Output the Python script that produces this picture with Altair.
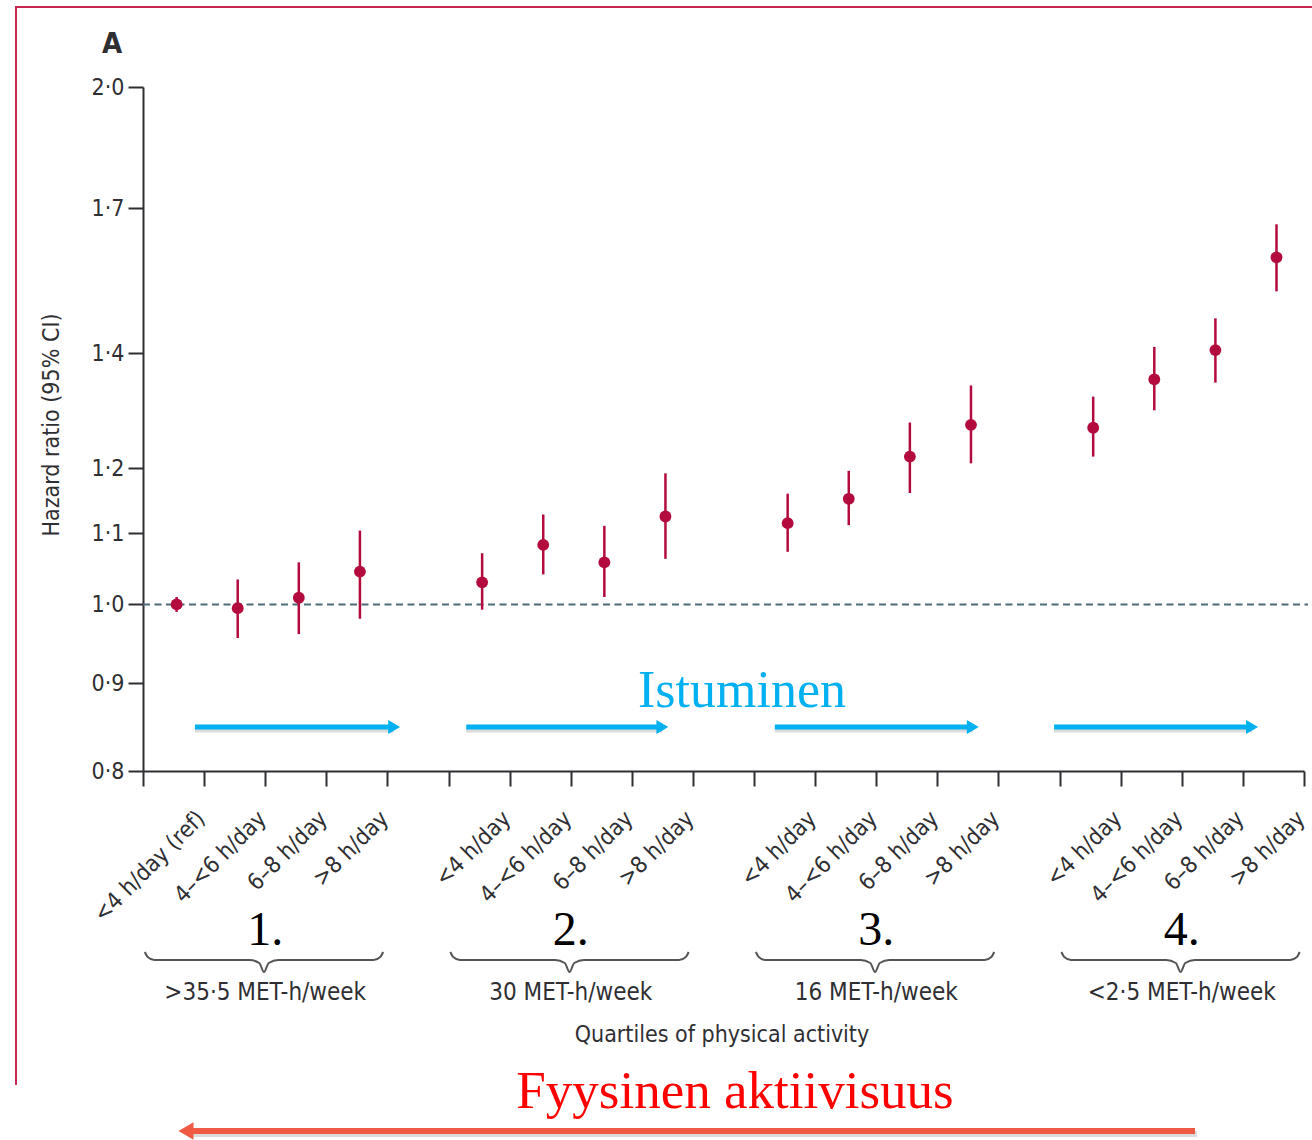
import altair as alt
import pandas as pd

# Hazard ratios (95% CI) by daily sitting time within quartiles of physical activity
sitting = ["<4 h/day (ref)", "4–<6 h/day", "6–8 h/day", ">8 h/day",
           "<4 h/day", "4–<6 h/day", "6–8 h/day", ">8 h/day",
           "<4 h/day", "4–<6 h/day", "6–8 h/day", ">8 h/day",
           "<4 h/day", "4–<6 h/day", "6–8 h/day", ">8 h/day"]
slot = [0, 1, 2, 3, 5, 6, 7, 8, 10, 11, 12, 13, 15, 16, 17, 18]
hr = [1.000, 0.995, 1.009, 1.045, 1.030, 1.083, 1.058, 1.125,
      1.115, 1.152, 1.219, 1.272, 1.267, 1.352, 1.406, 1.592]
lo = [0.990, 0.956, 0.961, 0.981, 0.993, 1.041, 1.010, 1.063,
      1.073, 1.112, 1.161, 1.208, 1.219, 1.297, 1.346, 1.521]
hi = [1.010, 1.034, 1.058, 1.104, 1.071, 1.128, 1.111, 1.192,
      1.160, 1.196, 1.276, 1.341, 1.321, 1.412, 1.467, 1.664]

group_num = ["1.", "2.", "3.", "4."]
group_met = [">35·5 MET-h/week", "30 MET-h/week", "16 MET-h/week", "<2·5 MET-h/week"]
group_start = [0, 5, 10, 15]

y_ticks = [0.8, 0.9, 1.0, 1.1, 1.2, 1.4, 1.7, 2.0]

# sitting-time arrows (tail, tip) along the x scale
arrow_from = [0.30, 4.74, 9.79, 14.36]
arrow_to = [3.66, 8.05, 13.13, 17.70]

W, H = 1161, 684
PAD_L, PAD_T = 143, 87

SANS = "Liberation Sans Narrow, DejaVu Sans Condensed, Roboto Condensed, Arial Narrow, Lato, sans-serif"
SERIF = "Liberation Serif, DejaVu Serif, serif"
DARK = "#2f2f33"
RED = "#b30b3e"
CYAN = "#00B0F0"

df = pd.DataFrame({"slot": slot, "label": sitting, "hr": hr, "lo": lo, "hi": hi})
gdf = pd.DataFrame({"num": group_num, "met": group_met,
                    "center": [s + 1.45 for s in group_start]})
adf = pd.DataFrame({"a0": arrow_from, "a1": arrow_to,
                    "head": [a - 0.1 for a in arrow_to]})

xs = alt.Scale(domain=[-0.55, 18.45], nice=False, zero=False)
ys = alt.Scale(type="log", domain=[0.8, 2.0], nice=False)

# identical axis definitions on every layer so they merge into one axis each
x_axis = alt.Axis(values=[round(-0.55 + k, 2) for k in range(20)], labels=False, title=None,
                  grid=False, tickSize=15, tickWidth=2, tickColor=DARK,
                  domainWidth=2, domainColor=DARK)
y_axis = alt.Axis(values=y_ticks, title=None, grid=False,
                  labelExpr="replace(format(datum.value, '.1f'), '.', '·')",
                  labelFont=SANS, labelFontSize=23, labelColor=DARK, labelPadding=4,
                  tickSize=15, tickWidth=2, tickColor=DARK,
                  domainWidth=2, domainColor=DARK)


def xq(field):
    return alt.X(field, scale=xs, axis=x_axis)


def yq(field):
    return alt.Y(field, scale=ys, axis=y_axis)


points = alt.Chart(df).mark_circle(size=140, color=RED, opacity=1).encode(
    x=xq("slot:Q"), y=yq("hr:Q"),
)
bars = alt.Chart(df).mark_rule(color=RED, strokeWidth=2.5).encode(
    x=xq("slot:Q"), y=yq("lo:Q"), y2="hi:Q"
)
ref_line = alt.Chart(pd.DataFrame({"ref": [1.0]})).mark_rule(
    color="#4f6b78", strokeWidth=2, strokeDash=[7, 4.5]
).encode(y=yq("ref:Q"), x=alt.value(0), x2=alt.value(W + 4))

tick_labels = alt.Chart(df).mark_text(
    angle=315, align="right", baseline="alphabetic", font=SANS, fontSize=23,
    color=DARK, dx=21, dy=21
).encode(x=xq("slot:Q"), y=alt.value(733), text="label:N")

nums = alt.Chart(gdf).mark_text(
    font=SERIF, fontSize=48, color="#000000", baseline="alphabetic"
).encode(x=xq("center:Q"), y=alt.value(858), text="num:N")
mets = alt.Chart(gdf).mark_text(
    font=SANS, fontSize=24, color=DARK, baseline="alphabetic"
).encode(x=xq("center:Q"), y=alt.value(913), text="met:N")


def single_text(txt, x, y, **kw):
    return alt.Chart(pd.DataFrame({"t": [txt]})).mark_text(**kw).encode(
        text="t:N", x=alt.value(x), y=alt.value(y))


quart = single_text("Quartiles of physical activity", 579, 955,
                    font=SANS, fontSize=23, color=DARK, baseline="alphabetic")
panel = single_text("A", -31, -34, font=SANS, fontSize=29, fontWeight="bold",
                    color=DARK, baseline="alphabetic")
ytitle = single_text("Hazard ratio (95% CI)", -91, 338, font=SANS, fontSize=23,
                     color=DARK, angle=270, baseline="middle")
sit_txt = single_text("Istuminen", 599, 620, font=SERIF, fontSize=52,
                      color=CYAN, baseline="alphabetic")
pa_txt = single_text("Fyysinen aktiivisuus", 592, 1021, font=SERIF, fontSize=53,
                     color="#FF0000", baseline="alphabetic")

# blue arrows with a soft drop shadow
arrow_shadow = alt.Chart(adf).mark_rule(color="#888888", opacity=0.3, strokeWidth=5).encode(
    x=xq("a0:Q"), x2="head:Q", y=alt.value(643))
arrow_shaft = alt.Chart(adf).mark_rule(color=CYAN, strokeWidth=5).encode(
    x=xq("a0:Q"), x2="head:Q", y=alt.value(640))
arrow_head = alt.Chart(adf).mark_point(
    shape="triangle-right", filled=True, size=190, color=CYAN, opacity=1
).encode(x=xq("head:Q"), y=alt.value(640))

one = pd.DataFrame({"k": [0]})
red_shadow = alt.Chart(one).mark_rule(color="#888888", opacity=0.3, strokeWidth=6).encode(
    x=alt.value(45), x2=alt.value(1054), y=alt.value(1047))
red_shaft = alt.Chart(one).mark_rule(color="#EF5A45", strokeWidth=6).encode(
    x=alt.value(45), x2=alt.value(1052), y=alt.value(1044))
red_head = alt.Chart(one).mark_point(
    shape="triangle-left", filled=True, size=300, color="#EF5A45", opacity=1
).encode(x=alt.value(43), y=alt.value(1044))

frame_top = alt.Chart(one).mark_rule(color="#c8284f", strokeWidth=2).encode(
    x=alt.value(-127), x2=alt.value(1175), y=alt.value(-80))
frame_left = alt.Chart(one).mark_rule(color="#c8284f", strokeWidth=2).encode(
    x=alt.value(-127), y=alt.value(-81), y2=alt.value(998))

main = alt.layer(
    frame_top, frame_left, ref_line, bars, points, tick_labels, nums, mets, quart,
    panel, ytitle, arrow_shadow, arrow_shaft, arrow_head, sit_txt,
    red_shadow, red_shaft, red_head, pa_txt,
)

# curly braces grouping the sitting categories under each activity quartile
brace_u = [0.0, 0.012, 0.04, 0.44, 0.48, 0.5, 0.52, 0.56, 0.96, 0.988, 1.0]
brace_v = [0, 5, 8, 8, 11, 20, 11, 8, 8, 5, 0]
brace_rows = []
for g, s in enumerate(group_start):
    for u, v in zip(brace_u, brace_v):
        brace_rows.append({"grp": g, "bx": s - 0.52 + 3.9 * u, "bv": v})
braces = alt.Chart(pd.DataFrame(brace_rows)).mark_line(
    color="#555555", strokeWidth=2, interpolate="monotone"
).encode(
    x=xq("bx:Q"),
    y=alt.Y("bv:Q", scale=alt.Scale(domain=[0, 20], range=[865, 885]), axis=None),
    detail="grp:N",
)

chart = alt.layer(main, braces).resolve_scale(y="independent").properties(
    width=W, height=H,
    padding={"left": PAD_L, "top": PAD_T, "right": 8, "bottom": 369},
    autosize=alt.AutoSizeParams(type="none"),
    background="white",
).configure_view(stroke=None)

chart.save("out.html", embed_options={"renderer": "svg", "actions": False})
